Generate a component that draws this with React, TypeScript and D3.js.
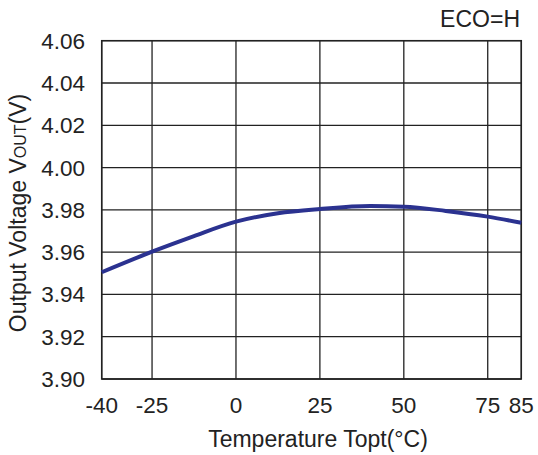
import React from "react";
import * as d3 from "d3";

const temps = [-40, -25, -12.5, 0, 12.5, 25, 40, 50, 62.5, 75, 85];
const volts = [3.9505, 3.9602, 3.9676, 3.9744, 3.9784, 3.9804, 3.9818, 3.9815, 3.9795, 3.9768, 3.9739];
const xTicks = [-40, -25, 0, 25, 50, 75, 85];
const yTicks = [3.9, 3.92, 3.94, 3.96, 3.98, 4.0, 4.02, 4.04, 4.06];

const W = 538, H = 455;
const L = 101.7, R = 521.3, T = 40.7, B = 379;
const font = "Liberation Sans, Arial, sans-serif";

export default function App() {
  const x = d3.scaleLinear().domain([-40, 85]).range([L, R]);
  const y = d3.scaleLinear().domain([3.9, 4.06]).range([B, T]);
  const line = d3.line<number>().x((_, i) => x(temps[i])).y((d) => y(d)).curve(d3.curveMonotoneX);
  return (
    <svg width={W} height={H} style={{ position: "absolute", left: 0, top: 0, background: "#fff" }}>
      {xTicks.map((t) => (
        <line key={"gx" + t} x1={x(t)} x2={x(t)} y1={T} y2={B} stroke="#222" strokeWidth={1.3} />
      ))}
      {yTicks.map((t) => (
        <line key={"gy" + t} x1={L} x2={R} y1={y(t)} y2={y(t)} stroke="#222" strokeWidth={1.3} />
      ))}
      <rect x={L} y={T} width={R - L} height={B - T} fill="none" stroke="#222" strokeWidth={1.5} />
      <path d={line(volts) || ""} fill="none" stroke="#2b3290" strokeWidth={4} />
      {xTicks.map((t) => (
        <text key={"tx" + t} x={x(t)} y={413} textAnchor="middle" fontFamily={font} fontSize={22.5} fill="#222">
          {t}
        </text>
      ))}
      {yTicks.map((t) => (
        <text key={"ty" + t} x={85} y={y(t) + 8} textAnchor="end" fontFamily={font} fontSize={22.5} fill="#222">
          {t.toFixed(2)}
        </text>
      ))}
      <text x={318} y={447} textAnchor="middle" fontFamily={font} fontSize={23} fill="#222">
        Temperature Topt(°C)
      </text>
      <text x={520} y={26.5} textAnchor="end" fontFamily={font} fontSize={23} fill="#222">
        ECO=H
      </text>
      <text transform={`translate(26,213) rotate(-90)`} textAnchor="middle" fontFamily={font} fontSize={23} fill="#222">
        Output Voltage V<tspan fontSize={16}>OUT</tspan>(V)
      </text>
    </svg>
  );
}
